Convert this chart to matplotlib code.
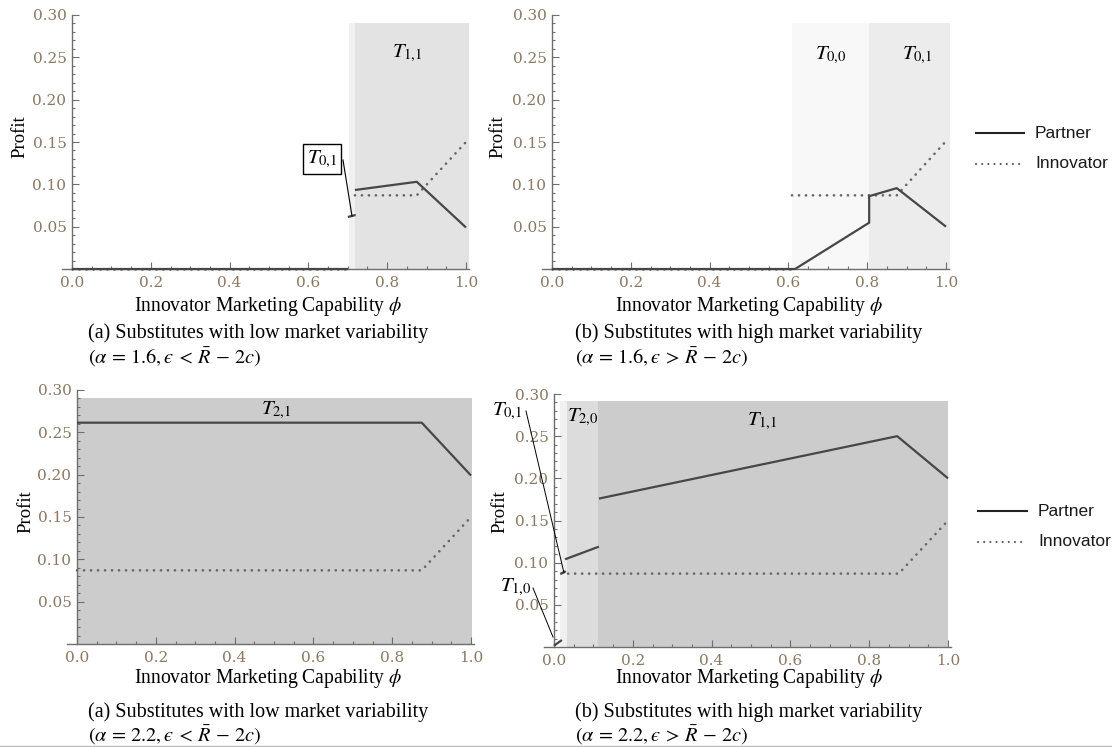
import numpy as np
import matplotlib
matplotlib.use('Agg')
import matplotlib.pyplot as plt
from matplotlib.patches import Rectangle
from matplotlib.lines import Line2D
from matplotlib.ticker import FixedLocator

plt.rcParams['mathtext.fontset'] = 'stix'
plt.rcParams['font.family'] = ['Liberation Serif', 'DejaVu Serif']

# ---------------- data ----------------
x_ticks = [0.0, 0.2, 0.4, 0.6, 0.8, 1.0]
x_tick_labels = ['0.0', '0.2', '0.4', '0.6', '0.8', '1.0']
y_ticks = [0.05, 0.10, 0.15, 0.20, 0.25, 0.30]
y_tick_labels = ['0.05', '0.10', '0.15', '0.20', '0.25', '0.30']

# (a) top: alpha = 1.6, low variability
a1_partner_x = [[0.0, 0.70], [0.70, 0.72], [0.718, 0.875, 1.0]]
a1_partner_y = [[0.0, 0.0], [0.0614, 0.0638], [0.0933, 0.103, 0.049]]
a1_innov_x = [[0.0, 0.70], [0.718, 0.875, 1.0]]
a1_innov_y = [[0.0, 0.0], [0.087, 0.087, 0.150]]
a1_region_bounds = [0.703, 0.718, 1.008]
a1_region_names = ['$T_{0{,}1}$', '$T_{1{,}1}$']

# (b) top: alpha = 1.6, high variability
b1_partner_x = [[0.0, 0.617, 0.805, 0.805, 0.875, 1.0]]
b1_partner_y = [[0.0, 0.0, 0.0547, 0.086, 0.0955, 0.05]]
b1_innov_x = [[0.0, 0.609], [0.609, 0.875, 1.0]]
b1_innov_y = [[0.0, 0.0], [0.087, 0.087, 0.151]]
b1_region_bounds = [0.609, 0.805, 1.01]
b1_region_names = ['$T_{0{,}0}$', '$T_{0{,}1}$']

# (a) bottom: alpha = 2.2, low variability
a2_partner_x = [[0.0, 0.875, 1.0]]
a2_partner_y = [[0.2614, 0.2614, 0.199]]
a2_innov_x = [[0.0, 0.875, 1.0]]
a2_innov_y = [[0.087, 0.087, 0.150]]
a2_region_bounds = [0.0, 1.003]
a2_region_names = ['$T_{2{,}1}$']

# (b) bottom: alpha = 2.2, high variability
b2_partner_x = [[0.0, 0.02], [0.018, 0.03], [0.028, 0.114], [0.114, 0.871, 1.0]]
b2_partner_y = [[0.0015, 0.0083], [0.087, 0.090], [0.104, 0.119], [0.176, 0.250, 0.200]]
b2_innov_x = [[0.018, 0.875, 1.0]]
b2_innov_y = [[0.087, 0.087, 0.150]]
b2_region_bounds = [0.015, 0.034, 0.1125, 1.0]
b2_region_names = ['$T_{0{,}1}$', '$T_{2{,}0}$', '$T_{1{,}1}$', '$T_{1{,}0}$']

caption_titles = ['(a) Substitutes with low market variability',
                  '(b) Substitutes with high market variability']
caption_params_top = ['$(\\alpha\\,=\\,1.6,\u03f5\\,<\\,\\bar{R}\\,-\\,2c)$',
                      '$(\\alpha\\,=\\,1.6,\u03f5\\,>\\,\\bar{R}\\,-\\,2c)$']
caption_params_bot = ['$(\\alpha\\,=\\,2.2,\u03f5\\,<\\,\\bar{R}\\,-\\,2c)$',
                      '$(\\alpha\\,=\\,2.2,\u03f5\\,>\\,\\bar{R}\\,-\\,2c)$']
xlabel_text = r'Innovator Marketing Capability $\phi$'
ylabel_text = 'Profit'
legend_names = ['Partner', 'Innovator']

# ---------------- style ----------------
W, H = 1112, 747
fig = plt.figure(figsize=(W / 100, H / 100), dpi=100)
fig.patch.set_facecolor('white')

PARTNER_C = '#474747'
INNOV_C = '#666666'
AXIS_C = '#6e6e6e'
TICKLAB_C = '#8a7862'
LW = 1.6
DOTS = (0, (0.05, 2.6))


def fx(px):
    return px / W


def fy(py):
    return 1 - py / H


def make_ax(x0, x1, y0, y30):
    sx = x1 - x0
    xmin, xmax = -0.03, 1.03
    ymin, ymax = 0.0, 0.30
    left = x0 + xmin * sx
    right = x0 + xmax * sx
    ax = fig.add_axes([fx(left), fy(y0), (right - left) / W, (y0 - y30) / H])
    ax.set_xlim(xmin, xmax)
    ax.set_ylim(ymin, ymax)
    ax.patch.set_visible(False)
    for s in ['top', 'right']:
        ax.spines[s].set_visible(False)
    ax.spines['left'].set_position(('data', 0))
    ax.spines['bottom'].set_position(('data', 0))
    ax.spines['left'].set_bounds(0, 0.30)
    ax.spines['bottom'].set_bounds(-0.025, 1.008)
    for s in ['left', 'bottom']:
        ax.spines[s].set_color(AXIS_C)
        ax.spines[s].set_linewidth(1.0)
        ax.spines[s].set_zorder(1)
    ax.xaxis.set_major_locator(FixedLocator(x_ticks))
    ax.set_xticklabels(x_tick_labels)
    ax.xaxis.set_minor_locator(FixedLocator(np.round(np.arange(0.05, 1.0, 0.05), 3)))
    ax.yaxis.set_major_locator(FixedLocator(y_ticks))
    ax.set_yticklabels(y_tick_labels)
    ax.yaxis.set_minor_locator(FixedLocator(np.round(np.arange(0.01, 0.30, 0.01), 3)))
    ax.tick_params(which='both', direction='in', color=AXIS_C, width=0.8)
    ax.tick_params(which='major', length=5)
    ax.tick_params(which='minor', length=2.5)
    ax.tick_params(axis='x', which='major', pad=5, labelsize=11, labelcolor=TICKLAB_C)
    ax.tick_params(axis='y', which='major', pad=4, labelsize=11, labelcolor=TICKLAB_C)
    for lab in ax.get_xticklabels() + ax.get_yticklabels():
        lab.set_family('DejaVu Serif')
    return ax


def shade(ax, bounds, colors, top=0.29):
    for (a, b), c in zip(zip(bounds[:-1], bounds[1:]), colors):
        ax.add_patch(Rectangle((a, 0), b - a, top, facecolor=c, edgecolor='none', zorder=0))


def draw_lines(ax, px, py, ix, iy):
    for xs, ys in zip(ix, iy):
        ax.plot(xs, ys, color=INNOV_C, lw=1.9, linestyle=DOTS,
                dash_capstyle='round', clip_on=False, zorder=3)
    for xs, ys in zip(px, py):
        ax.plot(xs, ys, color=PARTNER_C, lw=LW, solid_capstyle='butt',
                clip_on=False, zorder=4)


def ftext(px, py, s, **kw):
    return fig.text(fx(px), fy(py), s, **kw)


renderer = fig.canvas.get_renderer()


def fit_text(px, py, s, target_w, ha='left', size=13, **kw):
    t = fig.text(fx(px), fy(py), s, ha=ha, va='center', fontsize=size, **kw)
    w = t.get_window_extent(renderer).width
    t.set_fontsize(size * target_w / w)
    return t


TSIZE = 15

# ---- Panel 1 (top-left)
ax1 = make_ax(72, 466, 269, 15)
shade(ax1, a1_region_bounds, ['#f0f0f0', '#e3e3e3'])
draw_lines(ax1, a1_partner_x, a1_partner_y, a1_innov_x, a1_innov_y)
ftext(407, 53, a1_region_names[1], ha='center', va='center', fontsize=TSIZE)
ftext(322, 159, a1_region_names[0], ha='center', va='center', fontsize=TSIZE,
      bbox=dict(boxstyle='square,pad=0.2', facecolor='white', edgecolor='black', lw=1.0))
fig.add_artist(Line2D([fx(343), fx(352)], [fy(160), fy(216)], color='black', lw=0.8))

# ---- Panel 2 (top-right)
ax2 = make_ax(552, 946, 269, 15)
shade(ax2, b1_region_bounds, ['#f8f8f8', '#ececec'])
draw_lines(ax2, b1_partner_x, b1_partner_y, b1_innov_x, b1_innov_y)
ftext(831, 55, b1_region_names[0], ha='center', va='center', fontsize=TSIZE)
ftext(917, 55, b1_region_names[1], ha='center', va='center', fontsize=TSIZE)

# ---- Panel 3 (bottom-left)
ax3 = make_ax(77, 471, 644, 390)
shade(ax3, a2_region_bounds, ['#cccccc'])
draw_lines(ax3, a2_partner_x, a2_partner_y, a2_innov_x, a2_innov_y)
ftext(276, 410, a2_region_names[0], ha='center', va='center', fontsize=TSIZE)

# ---- Panel 4 (bottom-right)
ax4 = make_ax(554, 948, 647, 394)
shade(ax4, b2_region_bounds, ['#f0f0f0', '#dcdcdc', '#cccccc'], top=0.292)
draw_lines(ax4, b2_partner_x, b2_partner_y, b2_innov_x, b2_innov_y)
ftext(583, 417, b2_region_names[1], ha='center', va='center', fontsize=TSIZE)
ftext(762, 421, b2_region_names[2], ha='center', va='center', fontsize=TSIZE)
ftext(507, 411, b2_region_names[0], ha='center', va='center', fontsize=TSIZE)
fig.add_artist(Line2D([fx(526), fx(564)], [fy(411), fy(573)], color='black', lw=0.7))
ftext(516, 587, b2_region_names[3], ha='center', va='center', fontsize=TSIZE)
fig.add_artist(Line2D([fx(533), fx(553)], [fy(588), fy(637)], color='black', lw=0.7))

# ---- y labels
for (px, py) in [(20, 137), (498, 137), (26, 512), (500, 512)]:
    ftext(px, py, ylabel_text, rotation=90, ha='center', va='center', fontsize=13.5)

# ---- x labels and captions
for cx, row_y in [(268, 306), (749, 306), (268, 678), (749, 678)]:
    fit_text(cx, row_y, xlabel_text, 267, ha='center', size=13)

for lx, title, tw in [(88, caption_titles[0], 342), (575, caption_titles[1], 350)]:
    fit_text(lx, 333, title, tw, size=14)
    fit_text(lx, 712, title, tw, size=14)
for lx, i in [(88, 0), (575, 1)]:
    fit_text(lx, 357, caption_params_top[i], 174, size=14)
    fit_text(lx, 735, caption_params_bot[i], 174, size=14)

# ---- legends
LEG_FONT = dict(family=['Liberation Sans', 'DejaVu Sans'], fontsize=12.5, color='#1a1a1a',
                va='center', ha='left')
for (l0, l1, tx, yp, yi) in [(976, 1024, 1035, 133, 164), (978, 1027, 1038, 511, 542)]:
    fig.add_artist(Line2D([fx(l0), fx(l1)], [fy(yp), fy(yp)], color='#222222', lw=1.5))
    fig.add_artist(Line2D([fx(l0), fx(l1)], [fy(yi), fy(yi)], color='#555555', lw=1.5,
                          linestyle=(0, (0.05, 2.9)), dash_capstyle='round'))
    ftext(tx, yp, legend_names[0], **LEG_FONT)
    ftext(tx, yi, legend_names[1], **LEG_FONT)

# bottom border line
fig.add_artist(Line2D([0, 1], [fy(745.5), fy(745.5)], color='#bdbdbd', lw=1.0))

fig.savefig('out.png', dpi=100)
